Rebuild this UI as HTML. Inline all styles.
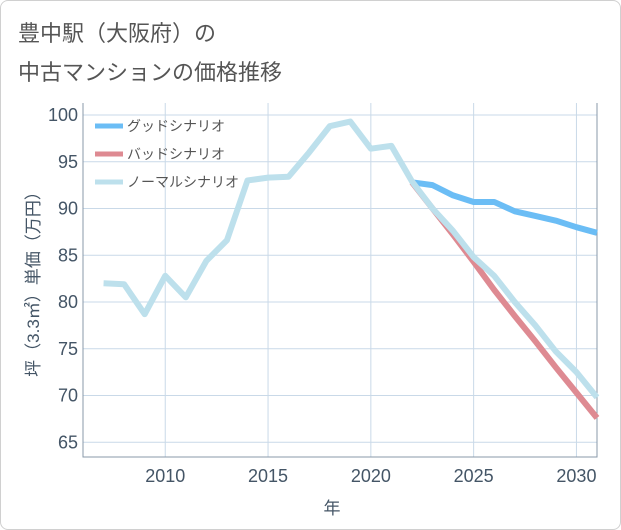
<!DOCTYPE html>
<html><head><meta charset="utf-8"><style>
body{margin:0;background:#fff;}
#card{position:absolute;left:0;top:0;width:619px;height:528px;border:1px solid #d0d0d0;border-radius:8px;background:#fff;}
.t{position:absolute;left:18px;font:22px "Liberation Sans","Noto Sans CJK JP",sans-serif;color:#555;}
</style></head><body>
<div id="card"></div>
<div class="t" style="top:16px">豊中駅（大阪府）の</div>
<div class="t" style="top:55px">中古マンションの価格推移</div>
<svg id="c" width="621" height="530" style="position:absolute;left:0;top:0" font-family="Liberation Sans, Noto Sans CJK JP, sans-serif"></svg>
<script>
const years=[2007,2008,2009,2010,2011,2012,2013,2014,2015,2016,2017,2018,2019,2020,2021,2022,2023,2024,2025,2026,2027,2028,2029,2030,2031];
const normal=[82,81.9,78.7,82.8,80.5,84.4,86.6,93,93.3,93.4,96,98.8,99.3,96.4,96.7,92.9,90,87.6,84.8,82.8,80,77.5,74.7,72.5,69.8];
const goodYears=[2022,2023,2024,2025,2026,2027,2028,2029,2030,2031];
const good=[92.8,92.5,91.4,90.7,90.7,89.7,89.2,88.7,88,87.4];
const bad=[92.8,90,87.2,84.3,81.3,78.5,75.8,73,70.3,67.6];
const yTicks=[65,70,75,80,85,90,95,100];
const xTicks=[2010,2015,2020,2025,2030];
const L=83,R=597,T=103,B=457;
const x=v=>L+(v-2006)*(R-L)/25;
const y=v=>302-(v-80)*9.35;
const svg=document.getElementById('c');
const NS='http://www.w3.org/2000/svg';
function mk(t,a,txt){const e=document.createElementNS(NS,t);for(const k in a)e.setAttribute(k,a[k]);if(txt!=null)e.textContent=txt;svg.appendChild(e);return e;}
yTicks.forEach(v=>{
 const g=mk('line',{x1:L,x2:R,y1:y(v),y2:y(v),stroke:'#c9d9e8','stroke-width':1});
 
 
 const t=mk('text',{x:L-5,y:y(v)+6,'text-anchor':'end','font-size':18,fill:'#445566'},v);
 
 
});
xTicks.forEach(v=>{
 const g=mk('line',{x1:x(v),x2:x(v),y1:T,y2:B,stroke:'#c9d9e8','stroke-width':1});
 
 
 const t=mk('text',{x:x(v),y:482,'text-anchor':'middle','font-size':18,fill:'#445566'},v);
 
 
});
const ax=mk('path',{d:`M${L},${T}V${B}H${R}V${T}`,fill:'none',stroke:'#8899aa','stroke-width':1});


function line(xs,vs,col,name){
 const p=mk('polyline',{points:xs.map((v,i)=>x(v)+','+y(vs[i])).join(' '),fill:'none',stroke:col,'stroke-width':6,'stroke-linejoin':'round'});
 
 
}
line(goodYears,good,'#6bbdf5','good-scenario-line');
line(goodYears,bad,'#de8a92','bad-scenario-line');
line(years,normal,'#bde0ec','normal-scenario-line');
const leg=[['グッドシナリオ','#6bbdf5'],['バッドシナリオ','#de8a92'],['ノーマルシナリオ','#bde0ec']];
leg.forEach((l,i)=>{
 const yy=126+i*28;
 const s=mk('line',{x1:95,x2:123,y1:yy,y2:yy,stroke:l[1],'stroke-width':5});
 
 
 const t=mk('text',{x:127,y:yy+5,'font-size':14,fill:'#555'},l[0]);
 
 
});
const yt=mk('text',{transform:'translate(39,280) rotate(-90)','text-anchor':'middle','font-size':17,fill:'#445566'},'坪（3.3㎡）単価（万円）');


const xt=mk('text',{x:332,y:514,'text-anchor':'middle','font-size':17,fill:'#445566'},'年');


</script>
</body></html>
